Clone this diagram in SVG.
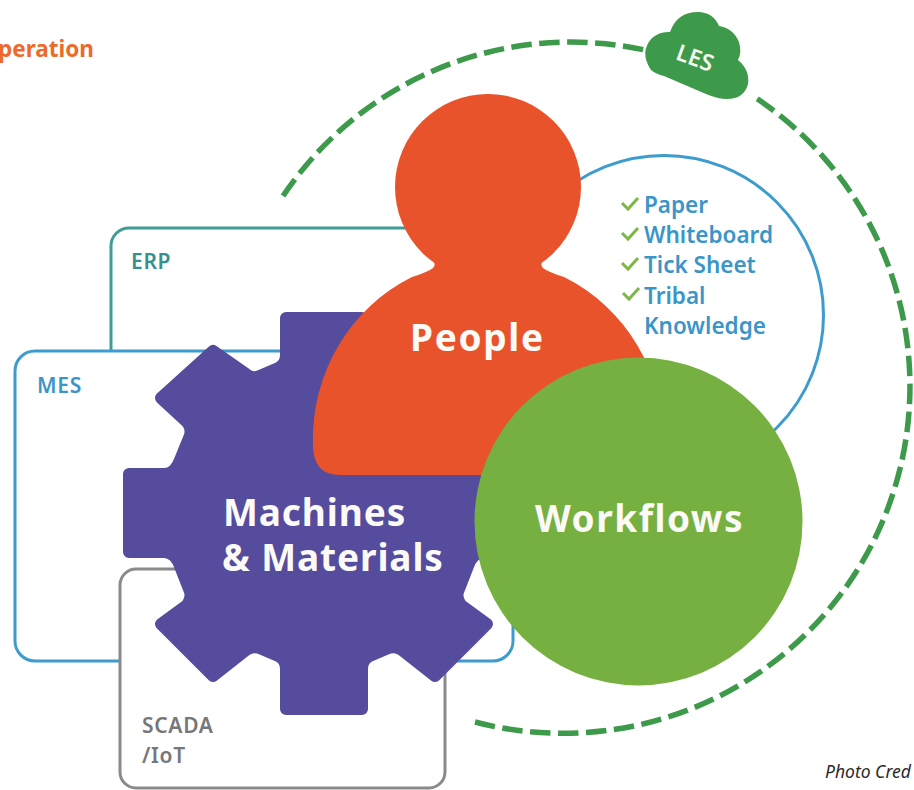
<svg xmlns="http://www.w3.org/2000/svg" width="914" height="790" viewBox="0 0 914 790">
<style>
text{font-family:"Noto Sans","Open Sans",sans-serif}
.box{fill:#fff;stroke-width:3}
.lbl{font-size:21px;font-weight:600;letter-spacing:.7px}
.big{fill:#fbfaf7;font-weight:700;font-size:37px}
.li{fill:#3a96c8;font-size:22.500px;font-weight:600}
.chk{fill:none;stroke:#7cb748;stroke-width:3}
</style>
<rect width="914" height="790" fill="#fff"/>
<g id="connectors">
<path d="M283 196A347 347 0 0 1 645 50M475 722A347 347 0 0 0 753 96" fill="none" stroke="#3e9a4b" stroke-width="5.500" stroke-dasharray="20.500 7.500"/>
</g>
<text x="-2" y="57" font-size="22.500" font-weight="700" fill="#ec6a2b">peration</text>
<g id="erp"><rect class="box" x="111" y="228" width="400" height="200" rx="18" stroke="#3f9c96"/><text class="lbl" x="131" y="269" fill="#36918c">ERP</text></g>
<g id="mes"><rect class="box" x="15" y="351" width="498" height="310" rx="20" stroke="#3d9ccd"/><text class="lbl" x="37" y="393" fill="#3a96c8">MES</text></g>
<g id="scada"><rect class="box" x="120" y="569" width="325" height="219" rx="16" stroke="#8a8a8a"/><text class="lbl" x="142" y="733" fill="#77777a">SCADA</text><text class="lbl" x="142" y="763" fill="#77777a">/IoT</text></g>
<g id="checklist"><circle cx="664" cy="315" r="159.500" fill="#fff" stroke="#3d9ccd" stroke-width="3"/>
<path class="chk" d="M622 203l6 6 10-11M622 233l6 6 10-11M622 263l6 6 10-11M623 293l6 6 10-11"/>
<text class="li" x="644" y="213">Paper</text><text class="li" x="644" y="243">Whiteboard</text><text class="li" x="644" y="273">Tick Sheet</text><text class="li" x="644" y="304">Tribal</text><text class="li" x="644" y="334">Knowledge</text></g>
<g id="machines"><path d="M362 318H286V355Q286 366 276 369L262 375Q253 380 246 374L213 351L161 398L187 422Q193 430 189 438L180 460Q175 474 164 474H129V552H164Q175 552 180 566L189 589Q193 597 187 605L161 624L213 676L246 650Q253 645 262 649L276 655Q286 658 286 669V709H362V669Q362 658 372 655L386 649Q395 645 402 650L435 676L487 624L461 605Q455 597 459 589L468 566Q473 552 484 552H519V474H484Q473 474 468 460L459 438Q455 430 461 422L487 398L435 351L402 374Q395 380 386 375L372 369Q362 366 362 355Z" fill="#554c9d" stroke="#554c9d" stroke-width="12" stroke-linejoin="round"/>
<text class="big" x="223" y="526" letter-spacing=".9">Machines</text><text class="big" x="222" y="571" letter-spacing=".9">&amp; Materials</text></g>
<g id="people"><circle cx="488" cy="187" r="93" fill="#e9532b"/><path d="M340 475Q313 475 313 445A175 180 0 0 1 412 277Q428 272 433 268Q437 264 431 258H545Q539 264 543 268Q548 272 564 277A175 180 0 0 1 663 445V475Z" fill="#e9532b"/><text class="big" x="410" y="351" letter-spacing="1.700">People</text></g>
<g id="workflows"><circle cx="638.500" cy="521.500" r="164" fill="#76b041"/><text class="big" x="535" y="532" letter-spacing="1.500">Workflows</text></g>
<g id="les"><path d="M651 70Q639 52 652 38Q660 31 670 32Q677 12 698 12Q713 12 719 26Q733 28 739 42Q742 52 738 60Q750 70 748 84Q744 99 727 99Q718 99 706 94L664 76Q656 74 651 70Z" fill="#3e9a4b"/><text x="695" y="66" font-size="23" font-weight="600" fill="#f3f6ef" text-anchor="middle" transform="rotate(20 695 58)">LES</text></g>
<text x="825" y="778" font-size="17.500" font-style="italic" fill="#2a2a2a">Photo Cred</text>
</svg>
